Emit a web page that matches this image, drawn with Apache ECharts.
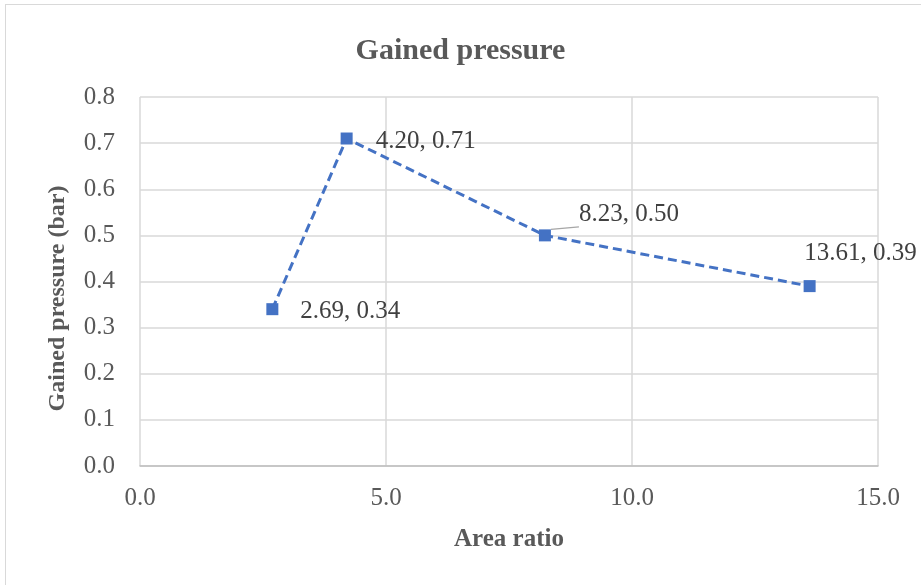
<!DOCTYPE html>
<html>
<head>
<meta charset="utf-8">
<script src="https://cdn.jsdelivr.net/npm/echarts@6/dist/echarts.min.js"></script>
<style>
html,body{margin:0;padding:0;background:#fff;}
#frame{position:absolute;left:5px;top:4px;width:930px;height:600px;border:1.5px solid #d9d9d9;box-sizing:border-box;}
#chart{position:absolute;left:0;top:0;width:921px;height:585px;}
</style>
</head>
<body>
<div id="frame"></div>
<div id="chart"></div>
<script>
const areaRatio = [2.69, 4.20, 8.23, 13.61];
const gainedPressure = [0.34, 0.71, 0.50, 0.39];
const pointLabels = ['2.69, 0.34', '4.20, 0.71', '8.23, 0.50', '13.61, 0.39'];

const font = '"Liberation Serif","Times New Roman",serif';
const labelCfg = [
  {position: 'right', distance: 22, offset: [0, 2]},
  {position: 'right', distance: 23, offset: [0, 3]},
  {position: 'right', distance: 0, offset: [28, -21]},
  {position: 'top', distance: 14, offset: [51, 0]}
];
const data = areaRatio.map((x, i) => {
  const d = {value: [x, gainedPressure[i]], label: Object.assign({show: true, formatter: pointLabels[i]}, labelCfg[i])};
  if (i === 2) d.labelLine = {show: true, lineStyle: {color: '#a6a6a6', width: 1.5}};
  return d;
});

const chart = echarts.init(document.getElementById('chart'), null, {renderer: 'canvas'});
chart.setOption({
  animation: false,
  textStyle: {fontFamily: font},
  title: {
    text: 'Gained pressure', left: 'center', top: 31,
    textStyle: {fontFamily: font, fontWeight: 'bold', fontSize: 30, color: '#595959'}
  },
  grid: {left: 140, right: 43, top: 97, bottom: 119},
  xAxis: {
    type: 'value', min: 0, max: 15, interval: 5,
    name: 'Area ratio', nameLocation: 'middle', nameGap: 61,
    nameTextStyle: {fontFamily: font, fontWeight: 'bold', fontSize: 25, color: '#595959'},
    axisLine: {show: true, lineStyle: {color: '#bfbfbf', width: 1.5}},
    axisTick: {show: false},
    axisLabel: {formatter: v => v.toFixed(1), fontFamily: font, fontSize: 25, color: '#595959', margin: 20},
    splitLine: {show: true, lineStyle: {color: '#d9d9d9', width: 1.5}}
  },
  yAxis: {
    type: 'value', min: 0, max: 0.8, interval: 0.1,
    name: 'Gained pressure (bar)', nameLocation: 'middle', nameGap: 70,
    nameTextStyle: {fontFamily: font, fontWeight: 'bold', fontSize: 24, color: '#595959', padding: [0, 34, 0, 0]},
    axisLine: {show: false},
    axisTick: {show: false},
    axisLabel: {formatter: v => v.toFixed(1), fontFamily: font, fontSize: 25, color: '#595959', margin: 25},
    splitLine: {show: true, lineStyle: {color: '#d9d9d9', width: 1.5}}
  },
  series: [{
    type: 'line',
    data: data,
    symbol: 'rect', symbolSize: 12,
    itemStyle: {color: '#4472c4'},
    lineStyle: {color: '#4472c4', width: 3, type: [9, 5]},
    label: {fontFamily: font, fontSize: 25, color: '#404040'}
  }]
});
</script>
</body>
</html>
